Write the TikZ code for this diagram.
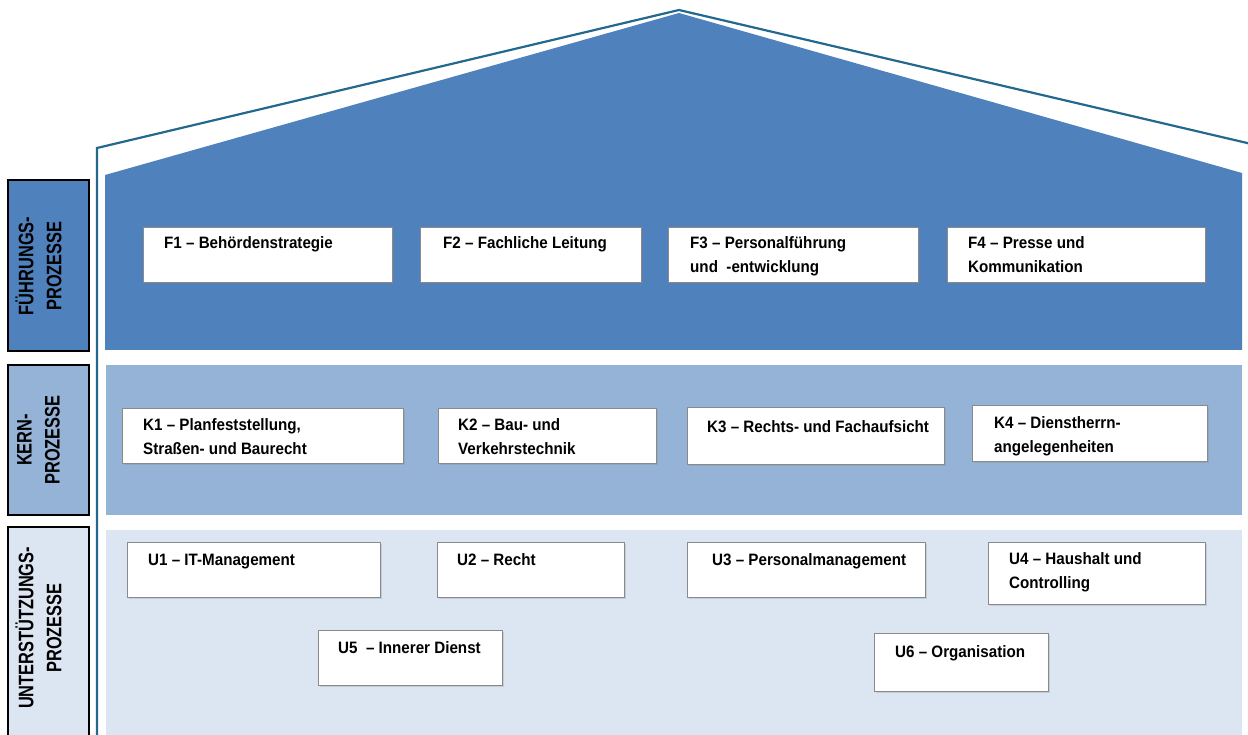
\documentclass[tikz,border=0pt]{standalone}
\usepackage{fontspec}
\setmainfont{Liberation Sans}
\newfontfamily\boxfam[FakeStretch=0.92]{Liberation Sans}
\newfontfamily\labfam[FakeStretch=0.78]{Liberation Sans}
\usetikzlibrary{shadows}
\definecolor{fblue}{HTML}{4F81BD}
\definecolor{kblue}{HTML}{95B3D7}
\definecolor{ublue}{HTML}{DCE6F2}
\definecolor{outl}{HTML}{23698D}
\definecolor{boxgray}{HTML}{8A8A8A}
\tikzset{
  pbox/.style={draw=boxgray, fill=white, line width=1pt, inner sep=0pt, anchor=north west,
    drop shadow={opacity=0.25, shadow xshift=1.2pt, shadow yshift=-1.2pt}},
  ptxt/.style={font=\boxfam\bfseries\fontsize{16.5}{24}\selectfont, align=left, inner sep=0pt, anchor=base west},
  lbox/.style={draw=black, line width=1.4pt},
  ltxt/.style={font=\labfam\bfseries\fontsize{21}{28}\selectfont, align=center, rotate=90, inner sep=0pt},
}
\begin{document}
\begin{tikzpicture}[x=1pt,y=-1pt]
\useasboundingbox (0,0) rectangle (1248,735);
\clip (0,0) rectangle (1248,735);
% bands
\fill[fblue] (105,175) -- (679,13) -- (1242,173) -- (1242,350) -- (105,350) -- cycle;
\fill[kblue] (106,365) rectangle (1242,515);
\fill[ublue] (106,530) rectangle (1242,740);
% outline of the house
\coordinate (o1) at (97,740);
\coordinate (o2) at (97,148);
\coordinate (o3) at (679,10);
\coordinate (o4) at (1260,146);
\draw[outl, line width=2.2pt, line join=miter] (o1) -- (o2) -- (o3) -- (o4);
% left labels
\draw[lbox, fill=fblue] (8,180) rectangle (89,351);
\draw[lbox, fill=kblue] (8,365) rectangle (89,515);
\draw[lbox, fill=ublue] (8,527) rectangle (89,745);
\node[ltxt] (LF) at (38.5,266) {FÜHRUNGS-\\PROZESSE};
\node[ltxt] (LK) at (38.5,440) {KERN-\\PROZESSE};
\node[ltxt] (LU) at (38.5,628) {UNTERSTÜTZUNGS-\\PROZESSE};
% Fuehrungsprozesse
\node[pbox, minimum width=249pt, minimum height=55pt] (F1) at (143,227) {};
\node[pbox, minimum width=221pt, minimum height=55pt] (F2) at (420,227) {};
\node[pbox, minimum width=250pt, minimum height=55pt] (F3) at (668,227) {};
\node[pbox, minimum width=258pt, minimum height=55pt] (F4) at (947,227) {};
\node[ptxt] (F1t) at (164,249) {F1 – Behördenstrategie};
\node[ptxt] (F2t) at (443,249) {F2 – Fachliche Leitung};
\node[ptxt] (F3t) at (690,273) {F3 – Personalführung\\und\ \ -entwicklung};
\node[ptxt] (F4t) at (968,273) {F4 – Presse und\\Kommunikation};
% Kernprozesse
\node[pbox, minimum width=281pt, minimum height=55pt] (K1) at (122,408) {};
\node[pbox, minimum width=218pt, minimum height=55pt] (K2) at (438,408) {};
\node[pbox, minimum width=257pt, minimum height=57pt] (K3) at (687,407) {};
\node[pbox, minimum width=235pt, minimum height=56pt] (K4) at (972,405) {};
\node[ptxt] (K1t) at (143,454) {K1 – Planfeststellung,\\Straßen- und Baurecht};
\node[ptxt] (K2t) at (458,454) {K2 – Bau- und\\Verkehrstechnik};
\node[ptxt] (K3t) at (707,432) {K3 – Rechts- und Fachaufsicht};
\node[ptxt] (K4t) at (994,452) {K4 – Dienstherrn-\\angelegenheiten};
% Unterstuetzungsprozesse
\node[pbox, minimum width=253pt, minimum height=55pt] (U1) at (127,542) {};
\node[pbox, minimum width=187pt, minimum height=55pt] (U2) at (437,542) {};
\node[pbox, minimum width=238pt, minimum height=55pt] (U3) at (687,542) {};
\node[pbox, minimum width=217pt, minimum height=62pt] (U4) at (988,542) {};
\node[pbox, minimum width=184pt, minimum height=55pt] (U5) at (318,630) {};
\node[pbox, minimum width=174pt, minimum height=58pt] (U6) at (874,633) {};
\node[ptxt] (U1t) at (148,565) {U1 – IT-Management};
\node[ptxt] (U2t) at (457,565) {U2 – Recht};
\node[ptxt] (U3t) at (712,565) {U3 – Personalmanagement};
\node[ptxt] (U4t) at (1009,588) {U4 – Haushalt und\\Controlling};
\node[ptxt] (U5t) at (338,653) {U5\ \ – Innerer Dienst};
\node[ptxt] (U6t) at (895,657) {U6 – Organisation};
\end{tikzpicture}
\end{document}
